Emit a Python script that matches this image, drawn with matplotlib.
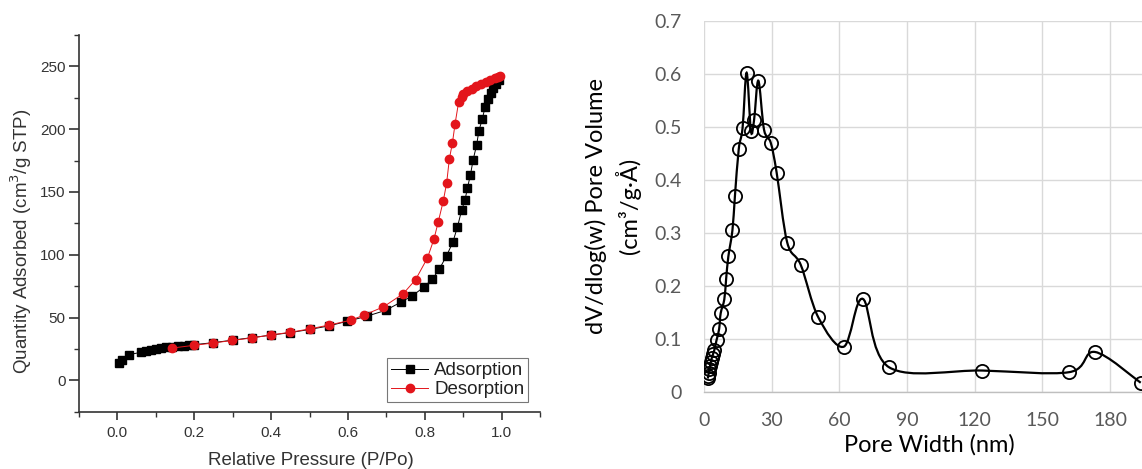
"""BET isotherm and pore size distribution, side by side."""

import matplotlib

matplotlib.use("Agg")
import matplotlib.pyplot as plt
import numpy as np
from matplotlib.patches import PathPatch
from matplotlib.path import Path
from matplotlib.ticker import MultipleLocator

# --- left panel: N2 isotherm ---
ads_p = [0.003, 0.011, 0.030, 0.061, 0.075, 0.087, 0.100, 0.113, 0.127, 0.143,
         0.159, 0.173, 0.187, 0.200, 0.250, 0.300, 0.350, 0.400, 0.450, 0.500,
         0.550, 0.598, 0.649, 0.698, 0.737, 0.768, 0.798, 0.820, 0.838, 0.857,
         0.873, 0.885, 0.896, 0.905, 0.911, 0.919, 0.926, 0.935, 0.941, 0.950,
         0.957, 0.965, 0.972, 0.978, 0.985, 0.994]
ads_q = [13.8, 16.5, 20.4, 22.3, 23.1, 23.9, 24.9, 25.7, 26.3, 26.6,
         27.1, 27.6, 28.1, 28.4, 30.0, 32.0, 34.0, 36.0, 38.0, 40.5,
         43.3, 47.0, 51.0, 55.7, 62.1, 67.4, 74.3, 80.7, 88.6, 99.3,
         109.9, 122.0, 135.4, 143.8, 153.1, 163.7, 175.7, 187.4, 198.8, 208.3,
         217.6, 224.0, 228.8, 232.8, 236.2, 239.4]

des_p = [0.997, 0.991, 0.983, 0.971, 0.959, 0.946, 0.933, 0.922, 0.911, 0.900,
         0.896, 0.888, 0.879, 0.872, 0.864, 0.857, 0.848, 0.835, 0.824, 0.807,
         0.776, 0.744, 0.692, 0.642, 0.607, 0.552, 0.500, 0.449, 0.399, 0.350,
         0.299, 0.250, 0.200, 0.143]
des_q = [242.0, 241.5, 240.7, 239.4, 237.8, 236.0, 234.0, 232.2, 230.4, 228.2,
         225.6, 221.3, 204.4, 189.0, 176.2, 157.1, 142.5, 126.0, 112.5, 97.4,
         80.1, 69.0, 58.4, 52.0, 47.8, 44.1, 40.9, 38.2, 36.1, 33.7,
         31.8, 29.7, 27.9, 25.7]

# --- right panel: pore size distribution ---
pore_width = [1.7, 1.9, 2.1, 2.4, 2.7, 3.0, 3.4, 4.0, 4.6, 5.6,
              6.7, 7.4, 9.0, 9.8, 10.8, 12.6, 13.7, 15.4, 17.1, 18.9,
              20.8, 22.2, 24.1, 26.6, 29.6, 32.2, 36.9, 42.9, 50.7, 62.0,
              70.4, 82.1, 123.4, 162.0, 173.3, 193.6]
pore_volume = [0.026, 0.031, 0.037, 0.043, 0.050, 0.057, 0.064, 0.072, 0.080, 0.099,
               0.119, 0.149, 0.175, 0.213, 0.256, 0.305, 0.369, 0.458, 0.498, 0.602,
               0.492, 0.513, 0.587, 0.495, 0.470, 0.414, 0.282, 0.240, 0.141, 0.086,
               0.176, 0.047, 0.041, 0.038, 0.076, 0.018]
width_ticks = [0, 30, 60, 90, 120, 150, 180, 210]

W, H = 1142, 469
RED = "#e3151b"
GRAY_TXT = "#595959"


def smooth_path(x, y):
    """Excel-like smoothed line: cubic Bezier through every point."""
    pts = np.column_stack([x, y])
    ext = np.vstack([pts[0], pts, pts[-1]])
    verts = [pts[0]]
    codes = [Path.MOVETO]
    for i in range(len(pts) - 1):
        p0, p1, p2, p3 = ext[i], ext[i + 1], ext[i + 2], ext[i + 3]
        verts += [p1 + (p2 - p0) / 6.0, p2 - (p3 - p1) / 6.0, p2]
        codes += [Path.CURVE4] * 3
    return Path(verts, codes)


def fx(px):
    return px / W


def fy(py):
    return 1 - py / H


fig = plt.figure(figsize=(W / 100, H / 100), dpi=100)
fig.patch.set_facecolor("white")

# left: Origin-style isotherm
left_font = "Liberation Sans"
ax1 = fig.add_axes([fx(79), fy(411.7), (540 - 79) / W, (411.7 - 35) / H])
ax1.plot(ads_p, ads_q, color="black", lw=0.7, marker="s", ms=5.6, mfc="black", mec="black",
         label="Adsorption", zorder=3)
ax1.plot(des_p, des_q, color=RED, lw=0.7, marker="o", ms=6.0, mfc=RED, mec=RED,
         label="Desorption", zorder=4)
ax1.set_xlim(-0.1, 1.1)
ax1.set_ylim(-25, 275)
ax1.xaxis.set_minor_locator(MultipleLocator(0.1))
ax1.yaxis.set_minor_locator(MultipleLocator(25))
ax1.set_xticks(np.arange(0, 1.01, 0.2))
ax1.set_xticklabels([f"{v:.1f}" for v in np.arange(0, 1.01, 0.2)])
ax1.set_yticks(np.arange(0, 251, 50))
for side in ("top", "right"):
    ax1.spines[side].set_visible(False)
for side in ("left", "bottom"):
    ax1.spines[side].set_linewidth(1.2)
    ax1.spines[side].set_color("#333333")
ax1.tick_params(axis="x", which="major", direction="out", length=6, width=1.2, pad=4,
                colors="#333333", labelsize=11)
ax1.tick_params(axis="y", which="major", direction="out", length=7.5, width=1.2, pad=2,
                colors="#333333", labelsize=11)
ax1.tick_params(which="minor", direction="out", length=3.5, width=1.0, color="#333333")
for lab in ax1.get_xticklabels() + ax1.get_yticklabels():
    lab.set_fontfamily(left_font)
    lab.set_color("#333333")
leg = ax1.legend(loc="lower right", bbox_to_anchor=(0.974, 0.026), borderaxespad=0,
                 fancybox=False, edgecolor="#555555", numpoints=1, handlelength=2.0,
                 handletextpad=0.3, borderpad=0.2, labelspacing=0.1,
                 prop={"family": left_font, "size": 13.5})
leg.get_frame().set_linewidth(0.8)
for t in leg.get_texts():
    t.set_color("#222222")
fig.text(fx(21), fy(241.5), "Quantity Adsorbed (cm$^3$/g STP)", rotation=90,
         ha="center", va="center", fontsize=13.5, family=left_font, color="#333333")
fig.text(fx(310.7), fy(460), "Relative Pressure (P/Po)", ha="center", va="center",
         fontsize=13.5, family=left_font, color="#333333")

# right: Excel-style pore size distribution (the picture is cropped at 194 nm)
right_font = "Lato"
ax2 = fig.add_axes([fx(704), fy(392.3), (1177.7 - 704) / W, (392.3 - 20.7) / H])
ax2.add_patch(PathPatch(smooth_path(pore_width, pore_volume), fill=False,
                        edgecolor="black", lw=1.6, zorder=3))
ax2.plot(pore_width, pore_volume, ls="none", marker="o", ms=9.5, mfc="none",
         mec="black", mew=1.3, zorder=4)
ax2.set_xlim(0, 210)
ax2.set_ylim(0, 0.7)
ax2.set_xticks(width_ticks)
# last label falls outside the cropped picture
ax2.set_xticklabels([str(v) for v in width_ticks[:-1]] + [""])
ax2.set_yticks(np.arange(0, 0.71, 0.1))
ax2.set_yticklabels(["0"] + [f"{v:.1f}" for v in np.arange(0.1, 0.71, 0.1)])
ax2.grid(True, color="#d9d9d9", lw=1.0, zorder=0)
ax2.set_axisbelow(True)
for side in ("top", "right", "left"):
    ax2.spines[side].set_visible(False)
ax2.spines["bottom"].set_color("#bfbfbf")
ax2.spines["bottom"].set_linewidth(1.0)
ax2.tick_params(axis="both", length=0, labelsize=14, colors=GRAY_TXT)
ax2.tick_params(axis="y", pad=16)
ax2.tick_params(axis="x", pad=14)
for lab in ax2.get_xticklabels() + ax2.get_yticklabels():
    lab.set_fontfamily(right_font)
fig.text(fx(929), fy(445), "Pore Width (nm)", ha="center", va="center",
         fontsize=17, family=right_font, color="black")
fig.text(fx(613), fy(206), "dV/dlog(w) Pore Volume\n(cm³/g·Å)", rotation=90,
         ha="center", va="center", multialignment="center", linespacing=1.4,
         fontsize=17, family=right_font, color="black")

fig.savefig("out.png", dpi=100, facecolor="white")
